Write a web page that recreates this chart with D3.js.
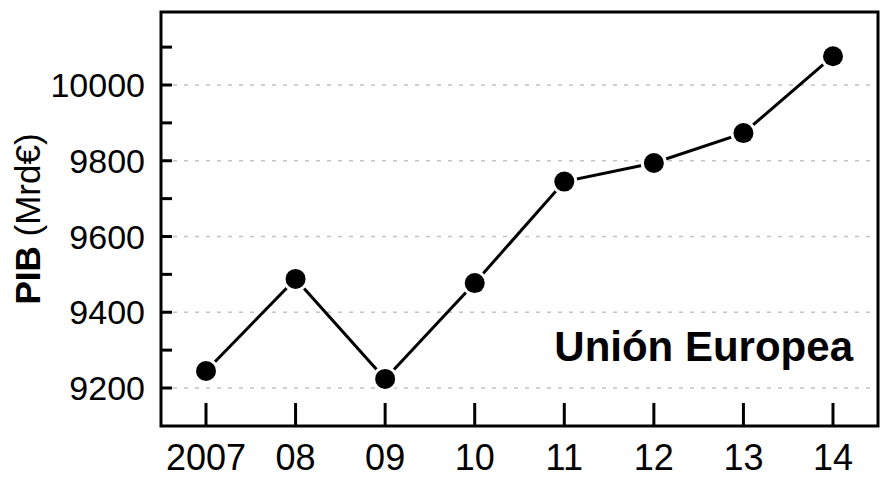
<!DOCTYPE html>
<html>
<head>
<meta charset="utf-8">
<script src="https://cdn.jsdelivr.net/npm/d3@7"></script>
<style>
  body { margin: 0; background: #fff; }
  svg { display: block; font-family: "Liberation Sans", Arial, sans-serif; }
</style>
</head>
<body>
<div id="chart"></div>
<script>
// data
const years = ['2007', '08', '09', '10', '11', '12', '13', '14'];
const gdp = [9245, 9488, 9224, 9477, 9745, 9794, 9873, 10076];
const yMajor = [9200, 9400, 9600, 9800, 10000];
const yMinor = [9300, 9500, 9700, 9900, 10100];

const width = 885, height = 478;
const frame = { left: 161, right: 878, top: 12, bottom: 426 };

const svg = d3.select('#chart').append('svg')
  .attr('width', width)
  .attr('height', height);

const x = d3.scalePoint()
  .domain(years)
  .range([206, 833]);

const y = d3.scaleLinear()
  .domain([9200, 10000])
  .range([388, 85]);

// dashed gridlines
svg.append('g')
  .selectAll('line')
  .data(yMajor)
  .join('line')
  .attr('x1', frame.left + 12)
  .attr('x2', frame.right - 2)
  .attr('y1', d => y(d))
  .attr('y2', d => y(d))
  .attr('stroke', '#c4c4c4')
  .attr('stroke-width', 1.5)
  .attr('stroke-dasharray', '4,7');

// y ticks (inside frame)
svg.append('g')
  .selectAll('line')
  .data(yMajor.concat(yMinor))
  .join('line')
  .attr('x1', frame.left)
  .attr('x2', frame.left + 11)
  .attr('y1', d => y(d))
  .attr('y2', d => y(d))
  .attr('stroke', '#000')
  .attr('stroke-width', 3);

svg.append('g')
  .selectAll('text')
  .data(yMajor)
  .join('text')
  .attr('x', 145)
  .attr('y', d => y(d))
  .attr('dy', '0.36em')
  .attr('text-anchor', 'end')
  .attr('font-size', 34)
  .text(d => d);

// x ticks (inside frame, pointing up)
svg.append('g')
  .selectAll('line')
  .data(years)
  .join('line')
  .attr('x1', d => x(d))
  .attr('x2', d => x(d))
  .attr('y1', frame.bottom)
  .attr('y2', frame.bottom - 23)
  .attr('stroke', '#000')
  .attr('stroke-width', 3);

svg.append('g')
  .selectAll('text')
  .data(years)
  .join('text')
  .attr('x', d => x(d))
  .attr('y', 470)
  .attr('text-anchor', 'middle')
  .attr('font-size', 36)
  .text(d => d);

// frame
svg.append('rect')
  .attr('x', frame.left)
  .attr('y', frame.top)
  .attr('width', frame.right - frame.left)
  .attr('height', frame.bottom - frame.top)
  .attr('fill', 'none')
  .attr('stroke', '#000')
  .attr('stroke-width', 3);

// series
const points = years.map((d, i) => ({ year: d, value: gdp[i] }));

const line = d3.line()
  .x(d => x(d.year))
  .y(d => y(d.value));

svg.append('path')
  .datum(points)
  .attr('d', line)
  .attr('fill', 'none')
  .attr('stroke', '#000')
  .attr('stroke-width', 3);

// white halo so the line stops short of each marker
svg.append('g')
  .selectAll('circle')
  .data(points)
  .join('circle')
  .attr('cx', d => x(d.year))
  .attr('cy', d => y(d.value))
  .attr('r', 13)
  .attr('fill', '#fff');

svg.append('g')
  .selectAll('circle')
  .data(points)
  .join('circle')
  .attr('cx', d => x(d.year))
  .attr('cy', d => y(d.value))
  .attr('r', 10)
  .attr('fill', '#000');

// y title
const title = svg.append('text')
  .attr('transform', 'translate(40,219) rotate(-90)')
  .attr('text-anchor', 'middle')
  .attr('font-size', 35);
title.append('tspan').attr('font-weight', 'bold').text('PIB');
title.append('tspan').text(' (Mrd€)');

svg.append('text')
  .attr('x', 853)
  .attr('y', 361)
  .attr('text-anchor', 'end')
  .attr('font-size', 42)
  .attr('font-weight', 'bold')
  .text('Unión Europea');
</script>
</body>
</html>
